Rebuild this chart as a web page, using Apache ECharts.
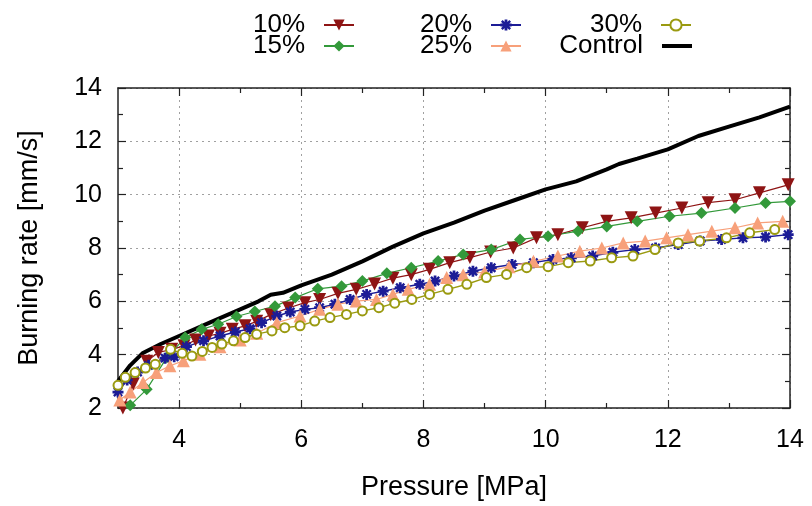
<!DOCTYPE html>
<html>
<head>
<meta charset="utf-8">
<script src="https://cdn.jsdelivr.net/npm/echarts@6/dist/echarts.min.js"></script>
<style>html,body{margin:0;padding:0;background:#fff;}#c{width:812px;height:506px;}</style>
</head>
<body>
<div id="c"></div>
<script>
// ---- data (pressure MPa, burning rate mm/s) ----
const seriesNames = ['10%', '15%', '20%', '25%', '30%', 'Control'];
const xMajorTicks = [4, 6, 8, 10, 12, 14];
const xMinorTicks = [5, 7, 9, 11, 13];

const d10 = [[3.08,2.0],[3.25,2.9],[3.47,3.75],[3.66,4.08],[3.88,4.2],[4.08,4.33],[4.27,4.55],[4.48,4.7],[4.67,4.8],[4.87,4.95],[5.08,5.08],[5.27,5.25],[5.5,5.5],[5.79,5.75],[6.06,5.95],[6.3,6.07],[6.6,6.3],[6.9,6.45],[7.2,6.65],[7.5,6.87],[7.8,7.0],[8.1,7.2],[8.43,7.45],[8.76,7.64],[9.1,7.85],[9.47,8.0],[9.85,8.38],[10.2,8.5],[10.6,8.76],[11.0,9.0],[11.4,9.13],[11.8,9.31],[12.23,9.5],[12.66,9.7],[13.1,9.81],[13.5,10.07],[13.97,10.37]];

const d15 = [[3.2,2.1],[3.47,2.7],[3.8,3.9],[4.1,4.64],[4.37,4.95],[4.64,5.14],[4.94,5.43],[5.24,5.62],[5.57,5.82],[5.9,6.14],[6.27,6.47],[6.66,6.57],[7.0,6.76],[7.4,7.05],[7.8,7.26],[8.24,7.51],[8.65,7.76],[9.11,7.94],[9.58,8.32],[10.04,8.44],[10.53,8.63],[11.0,8.81],[11.5,9.0],[12.03,9.19],[12.55,9.31],[13.1,9.5],[13.6,9.69],[14.0,9.75]];

const d20 = [[3.0,2.6],[3.15,3.05],[3.32,3.35],[3.5,3.6],[3.77,3.87],[3.92,3.92],[4.12,4.3],[4.4,4.52],[4.67,4.7],[4.92,4.85],[5.16,4.97],[5.35,5.2],[5.6,5.45],[5.82,5.6],[6.06,5.7],[6.3,5.76],[6.55,5.89],[6.8,6.07],[7.07,6.26],[7.34,6.38],[7.62,6.51],[7.94,6.64],[8.19,6.76],[8.5,6.95],[8.81,7.13],[9.11,7.26],[9.45,7.38],[9.8,7.45],[10.12,7.57],[10.42,7.63],[10.77,7.7],[11.1,7.84],[11.46,7.94],[11.8,8.0],[12.17,8.13],[12.53,8.26],[12.88,8.32],[13.23,8.38],[13.6,8.41],[13.97,8.5]];

const d25 = [[3.03,2.3],[3.2,2.6],[3.41,2.96],[3.63,3.33],[3.85,3.58],[4.07,3.77],[4.34,4.02],[4.67,4.3],[5.0,4.55],[5.27,4.8],[5.6,5.2],[5.98,5.45],[6.3,5.7],[6.6,5.89],[6.9,6.01],[7.23,6.07],[7.5,6.26],[7.75,6.45],[8.1,6.64],[8.38,6.89],[8.65,7.0],[9.0,7.1],[9.4,7.3],[9.8,7.5],[10.2,7.7],[10.56,7.88],[10.92,8.0],[11.27,8.19],[11.63,8.26],[11.98,8.38],[12.33,8.5],[12.72,8.63],[13.1,8.76],[13.47,8.94],[13.88,9.0]];

const d30 = [[3.0,2.85],[3.12,3.15],[3.28,3.33],[3.45,3.5],[3.61,3.64],[3.86,4.2],[4.05,4.05],[4.21,3.95],[4.38,4.12],[4.54,4.27],[4.7,4.4],[4.89,4.52],[5.08,4.64],[5.27,4.77],[5.52,4.89],[5.73,5.01],[5.98,5.08],[6.22,5.26],[6.47,5.39],[6.74,5.51],[7.0,5.64],[7.27,5.76],[7.53,5.93],[7.81,6.07],[8.1,6.26],[8.4,6.45],[8.71,6.64],[9.03,6.89],[9.36,7.01],[9.69,7.26],[10.04,7.3],[10.37,7.45],[10.73,7.51],[11.08,7.63],[11.43,7.7],[11.79,7.94],[12.17,8.19],[12.52,8.26],[12.96,8.38],[13.34,8.57],[13.75,8.69]];

const dControl = [[3.0,3.0],[3.2,3.6],[3.4,4.05],[3.7,4.4],[4.0,4.7],[4.5,5.2],[5.0,5.7],[5.3,6.0],[5.5,6.25],[5.7,6.32],[6.0,6.6],[6.5,7.0],[7.0,7.5],[7.5,8.05],[8.0,8.55],[8.5,8.95],[9.0,9.4],[9.5,9.8],[10.0,10.2],[10.5,10.5],[11.0,10.95],[11.2,11.15],[11.5,11.35],[12.0,11.7],[12.5,12.2],[13.0,12.55],[13.5,12.9],[14.0,13.3]];

const colors = ['#8e1414', '#33993a', '#1c1c96', '#f7a07a', '#9a9a10', '#000000'];

const FONT = 'Liberation Sans, Arial, sans-serif';
const asterisk = 'path://M-9,-6L-6,-9L9,6L6,9Z M6,-9L9,-6L-6,9L-9,6Z M-10,-2.5L10,-2.5L10,2.5L-10,2.5Z M-2.5,-10L2.5,-10L2.5,10L-2.5,10Z';

const chart = echarts.init(document.getElementById('c'), null, {renderer: 'canvas'});

function legendAt(name, right, top, extra) {
  return Object.assign({
    data: [name], right: right, top: top, orient: 'vertical', align: 'right',
    padding: 0, itemWidth: 30, itemHeight: 14,
    textStyle: {fontFamily: FONT, fontSize: 26, color: '#000', padding: [0, 14, 0, 0]},
    selectedMode: false
  }, extra || {});
}

const gridLine = {show: true, lineStyle: {color: '#a0a0a0', type: [2, 4], width: 1}};
const borderLine = {show: true, lineStyle: {color: '#222', width: 1.5}};

const option = {
  animation: false,
  backgroundColor: '#fff',
  color: colors,
  legend: [
    legendAt('10%', 457, 12), legendAt('15%', 457, 33),
    legendAt('20%', 290, 12), legendAt('25%', 290, 33),
    legendAt('30%', 120, 12),
    legendAt({name: 'Control', icon: 'rect', itemStyle: {color: '#000'}}, 120, 33, {itemHeight: 4})
  ],
  grid: {left: 118, right: 22, top: 88, bottom: 97, containLabel: false},
  xAxis: [
    {type: 'value', min: 3, max: 14, position: 'bottom',
     axisLine: borderLine,
     axisTick: {show: true, inside: true, length: 8, lineStyle: {color: '#222', width: 1.2}, customValues: xMajorTicks},
     axisLabel: {show: true, customValues: xMajorTicks, fontFamily: FONT, fontSize: 25, color: '#000', margin: 20},
     splitLine: gridLine,
     name: 'Pressure [MPa]', nameLocation: 'middle', nameGap: 66,
     nameTextStyle: {fontFamily: FONT, fontSize: 27, color: '#000'}},
    {type: 'value', min: 3, max: 14, position: 'bottom',
     axisLine: {show: false},
     axisTick: {show: true, inside: true, length: 5, lineStyle: {color: '#222', width: 1.2}, customValues: xMinorTicks},
     axisLabel: {show: false}, splitLine: {show: false}},
    {type: 'value', min: 3, max: 14, position: 'top',
     axisLine: borderLine,
     axisTick: {show: true, inside: true, length: 8, lineStyle: {color: '#222', width: 1.2}, customValues: xMajorTicks},
     axisLabel: {show: false}, splitLine: {show: false}},
    {type: 'value', min: 3, max: 14, position: 'top',
     axisLine: {show: false},
     axisTick: {show: true, inside: true, length: 5, lineStyle: {color: '#222', width: 1.2}, customValues: xMinorTicks},
     axisLabel: {show: false}, splitLine: {show: false}}
  ],
  yAxis: [
    {type: 'value', min: 2, max: 14, interval: 2, position: 'left',
     axisLine: borderLine,
     axisTick: {show: true, inside: true, length: 8, lineStyle: {color: '#222', width: 1.2}},
     minorTick: {show: true, splitNumber: 2, length: 5, lineStyle: {color: '#222', width: 1.2}},
     axisLabel: {fontFamily: FONT, fontSize: 25, color: '#000', margin: 16},
     splitLine: gridLine,
     name: 'Burning rate [mm/s]', nameLocation: 'middle', nameGap: 75,
     nameTextStyle: {fontFamily: FONT, fontSize: 27, color: '#000'}},
    {type: 'value', min: 2, max: 14, interval: 2, position: 'right',
     axisLine: borderLine,
     axisTick: {show: true, inside: true, length: 8, lineStyle: {color: '#222', width: 1.2}},
     minorTick: {show: true, splitNumber: 2, length: 5, lineStyle: {color: '#222', width: 1.2}},
     axisLabel: {show: false}, splitLine: {show: false}}
  ],
  series: [
    {name: '10%', type: 'line', data: d10, symbol: 'triangle', symbolRotate: 180, symbolSize: 13,
     lineStyle: {width: 1.2}, itemStyle: {color: colors[0]}},
    {name: '15%', type: 'line', data: d15, symbol: 'diamond', symbolSize: 12,
     lineStyle: {width: 1.2}, itemStyle: {color: colors[1]}},
    {name: '20%', type: 'line', data: d20, symbol: asterisk, symbolSize: 11,
     lineStyle: {width: 1.4}, itemStyle: {color: colors[2]}},
    {name: '25%', type: 'line', data: d25, symbol: 'triangle', symbolSize: 13,
     lineStyle: {width: 1.2}, itemStyle: {color: colors[3]}},
    {name: '30%', type: 'line', data: d30, symbol: 'emptyCircle', symbolSize: 9,
     lineStyle: {width: 1.4}, itemStyle: {color: colors[4], borderWidth: 2.2}},
    {name: 'Control', type: 'line', data: dControl, symbol: 'none', showSymbol: false,
     lineStyle: {width: 4, color: '#000'}, itemStyle: {color: '#000'}}
  ]
};
chart.setOption(option);
</script>
</body>
</html>
